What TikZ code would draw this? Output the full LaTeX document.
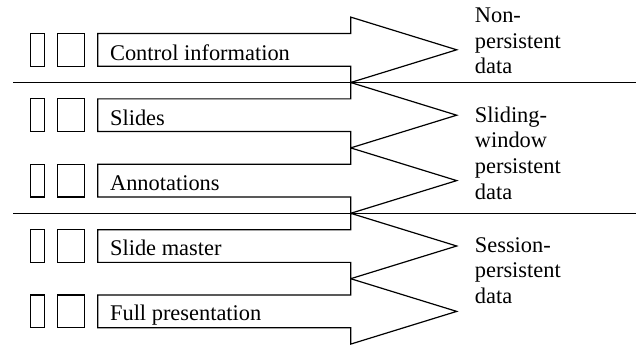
\documentclass[tikz,border=0pt]{standalone}
\usepackage{fontspec}
\setmainfont{Liberation Serif}
\usepackage{tikz}

\begin{document}
\begin{tikzpicture}[x=1pt,y=-1pt,line width=1.2pt,
  slot/.style={draw,minimum height=32.7pt,inner sep=0pt},
  lbl/.style={font=\fontsize{22.4}{25.6}\selectfont,inner sep=0pt}]
\useasboundingbox (0,0) rectangle (636,345);

% Control information
\begin{scope}[shift={(0,49.8)}]
\node[slot,minimum width=13.6pt] (ctlA) at (37.5,0) {};
\node[slot,minimum width=27pt] (ctlB) at (70.8,0) {};
\draw (97.7,-16.35) -- (350.7,-16.35) -- (350.7,-32.7) -- (456.7,0) -- (350.7,32.7) -- (350.7,16.35) -- (97.7,16.35) -- cycle;
\node[lbl,anchor=base west] (ctl) at (109.5,10.5) {Control information};
\end{scope}

% Slides
\begin{scope}[shift={(0,115.2)}]
\node[slot,minimum width=13.6pt] (sldA) at (37.5,0) {};
\node[slot,minimum width=27pt] (sldB) at (70.8,0) {};
\draw (97.7,-16.35) -- (350.7,-16.35) -- (350.7,-32.7) -- (456.7,0) -- (350.7,32.7) -- (350.7,16.35) -- (97.7,16.35) -- cycle;
\node[lbl,anchor=base west] (sld) at (109.5,9.8) {Slides};
\end{scope}

% Annotations
\begin{scope}[shift={(0,180.6)}]
\node[slot,minimum width=13.6pt] (annA) at (37.5,0) {};
\node[slot,minimum width=27pt] (annB) at (70.8,0) {};
\draw (97.7,-16.35) -- (350.7,-16.35) -- (350.7,-32.7) -- (456.7,0) -- (350.7,32.7) -- (350.7,16.35) -- (97.7,16.35) -- cycle;
\node[lbl,anchor=base west] (ann) at (109.5,9.4) {Annotations};
\end{scope}

% Slide master
\begin{scope}[shift={(0,246)}]
\node[slot,minimum width=13.6pt] (mstA) at (37.5,0) {};
\node[slot,minimum width=27pt] (mstB) at (70.8,0) {};
\draw (97.7,-16.35) -- (350.7,-16.35) -- (350.7,-32.7) -- (456.7,0) -- (350.7,32.7) -- (350.7,16.35) -- (97.7,16.35) -- cycle;
\node[lbl,anchor=base west] (mst) at (109.5,9) {Slide master};
\end{scope}

% Full presentation
\begin{scope}[shift={(0,311.4)}]
\node[slot,minimum width=13.6pt] (fulA) at (37.5,0) {};
\node[slot,minimum width=27pt] (fulB) at (70.8,0) {};
\draw (97.7,-16.35) -- (350.7,-16.35) -- (350.7,-32.7) -- (456.7,0) -- (350.7,32.7) -- (350.7,16.35) -- (97.7,16.35) -- cycle;
\node[lbl,anchor=base west] (ful) at (109.5,8.6) {Full presentation};
\end{scope}

% Separators
\draw (13.3,82.5) -- (636,82.5);
\draw (13.3,213.3) -- (636,213.3);

% Persistence classes (anchored on the last line)
\node[lbl,anchor=base west,align=left] (nonp) at (474.3,74) {Non-\\persistent\\data};
\node[lbl,anchor=base west,align=left] (slid) at (474.3,199) {Sliding-\\window\\persistent\\data};
\node[lbl,anchor=base west,align=left] (sess) at (474.3,303.3) {Session-\\persistent\\data};
\end{tikzpicture}
\end{document}
